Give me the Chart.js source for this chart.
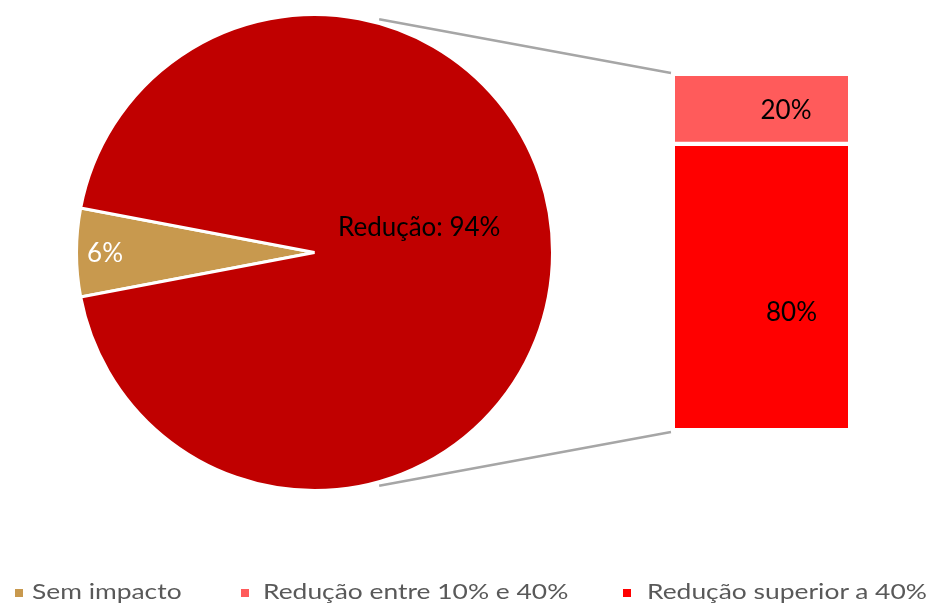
<!DOCTYPE html>
<html><head><meta charset="utf-8">
<script src="https://cdn.jsdelivr.net/npm/chart.js@4.4.0/dist/chart.umd.min.js"></script>
<style>
html,body{margin:0;padding:0;background:#fff;width:934px;height:605px;overflow:hidden;position:relative;font-family:Lato,'Open Sans',sans-serif;}
#pieWrap{position:absolute;left:64px;top:2px;width:501px;height:501px;}
#barWrap{position:absolute;left:675px;top:76px;width:173px;height:352px;}
#lines{position:absolute;left:0;top:0;}
.leg{position:absolute;top:577px;font-size:22px;color:#595959;white-space:nowrap;transform-origin:0 50%;transform:scaleX(1.2);}
.sw{position:absolute;top:589px;width:8px;height:8px;}
</style></head><body>
<canvas id="lines" width="934" height="605"></canvas>
<div id="pieWrap"><canvas id="pie" width="501" height="501"></canvas></div>
<div id="barWrap"><canvas id="bar" width="173" height="352"></canvas></div>
<div id="legend"></div>
<script>
// ---- data ----
const pieLabels = ['Sem impacto', 'Redução'];
const pieValues = [6, 94];
const barLabels = ['Redução superior a 40%', 'Redução entre 10% e 40%'];
const barValues = [80, 20];
const legendLabels = ['Sem impacto', 'Redução entre 10% e 40%', 'Redução superior a 40%'];

// ---- styles ----
const GOLD = '#C8994E', DARKRED = '#C00000', PINK = '#FF5B5B', RED = '#FF0000';
const legendColors = [GOLD, PINK, RED];
const legendSwatchX = [15, 241, 623];
const legendTextX = [32, 263, 647];
const LABEL_FONT = '26px Lato, "Open Sans", sans-serif';
const CAP = 26 * 0.717;

Chart.defaults.font.family = 'Lato';

const pieLabelPlugin = {
  id: 'pieLabels',
  afterDatasetsDraw(chart) {
    const ctx = chart.ctx;
    const meta = chart.getDatasetMeta(0);
    const place = [{f: 0.88, dx: 0, dy: 0, color: '#FFFFFF'}, {f: 0.44, dx: 0, dy: -26, color: '#000000'}];
    ctx.save();
    ctx.font = LABEL_FONT;
    ctx.textAlign = 'center';
    ctx.textBaseline = 'alphabetic';
    meta.data.forEach((arc, i) => {
      const p = arc.getProps(['x', 'y', 'startAngle', 'endAngle', 'outerRadius'], true);
      const mid = (p.startAngle + p.endAngle) / 2;
      const s = place[i];
      const x = p.x + Math.cos(mid) * p.outerRadius * s.f + s.dx;
      const y = p.y + Math.sin(mid) * p.outerRadius * s.f + s.dy;
      const v = pieValues[i];
      const txt = i === 0 ? v + '%' : pieLabels[i] + ': ' + v + '%';
      ctx.fillStyle = s.color;
      ctx.fillText(txt, x, y + CAP / 2);
    });
    ctx.restore();
  }
};

const pieChart = new Chart(document.getElementById('pie'), {
  type: 'pie',
  data: {
    labels: pieLabels,
    datasets: [{
      data: pieValues,
      backgroundColor: [GOLD, DARKRED],
      borderColor: '#FFFFFF',
      borderWidth: 3
    }]
  },
  options: {
    responsive: false,
    animation: false,
    radius: 238,
    rotation: 270 - pieValues[0] * 3.6 / 2,
    layout: {padding: 0},
    plugins: {legend: {display: false}, tooltip: {enabled: false}}
  },
  plugins: [pieLabelPlugin]
});

const barLabelPlugin = {
  id: 'barLabels',
  afterDatasetsDraw(chart) {
    const ctx = chart.ctx;
    const offs = [{dx: 30, dy: 24.7}, {dx: 24.5, dy: -2}];
    ctx.save();
    ctx.font = LABEL_FONT;
    ctx.textAlign = 'center';
    ctx.textBaseline = 'alphabetic';
    ctx.fillStyle = '#000000';
    chart.data.datasets.forEach((ds, di) => {
      const meta = chart.getDatasetMeta(di);
      meta.data.forEach((bar, j) => {
        const p = bar.getProps(['x', 'y', 'base'], true);
        const cy = (p.y + p.base) / 2;
        ctx.fillText(ds.data[j] + '%', p.x + offs[di].dx, cy + offs[di].dy + CAP / 2);
      });
    });
    ctx.restore();
  }
};

const barChart = new Chart(document.getElementById('bar'), {
  type: 'bar',
  data: {
    labels: [''],
    datasets: [
      {label: barLabels[0], data: [barValues[0]], backgroundColor: RED, borderWidth: 0},
      {label: barLabels[1], data: [barValues[1]], backgroundColor: PINK, borderColor: '#FFFFFF',
       borderWidth: {top: 0, left: 0, right: 0, bottom: 5}, borderSkipped: false}
    ]
  },
  options: {
    responsive: false,
    animation: false,
    layout: {padding: 0},
    barPercentage: 1,
    categoryPercentage: 1,
    scales: {
      x: {stacked: true, display: false},
      y: {stacked: true, display: false, min: 0, max: 100}
    },
    plugins: {legend: {display: false}, tooltip: {enabled: false}}
  },
  plugins: [barLabelPlugin]
});

// ---- connector lines from chart geometry ----
(function drawConnectors() {
  const c = document.getElementById('lines');
  const ctx = c.getContext('2d');
  const pr = document.getElementById('pie').getBoundingClientRect();
  const br = document.getElementById('bar').getBoundingClientRect();
  const arc = pieChart.getDatasetMeta(0).data[0];
  const cx = pr.left + arc.x, cy = pr.top + arc.y, r = arc.outerRadius + 4;
  const bar = barChart.getDatasetMeta(0).data[0];
  const barTop = br.top + barChart.getDatasetMeta(1).data[0].y;
  const barBottom = br.top + bar.base;
  const barLeft = br.left + bar.x - bar.width / 2;
  const a = 74.5 * Math.PI / 180;
  ctx.strokeStyle = '#A6A6A6';
  ctx.lineWidth = 2.5;
  ctx.beginPath();
  ctx.moveTo(cx + r * Math.cos(-a), cy + r * Math.sin(-a));
  ctx.lineTo(barLeft - 4, barTop - 3);
  ctx.moveTo(cx + r * Math.cos(a), cy + r * Math.sin(a));
  ctx.lineTo(barLeft - 4, barBottom + 4);
  ctx.stroke();
})();

// ---- legend ----
const lg = document.getElementById('legend');
legendLabels.forEach((t, i) => {
  const sw = document.createElement('div');
  sw.className = 'sw';
  sw.style.left = legendSwatchX[i] + 'px';
  sw.style.background = legendColors[i];
  lg.appendChild(sw);
  const tx = document.createElement('div');
  tx.className = 'leg';
  tx.style.left = legendTextX[i] + 'px';
  tx.textContent = t;
  lg.appendChild(tx);
});
</script>
</body></html>
